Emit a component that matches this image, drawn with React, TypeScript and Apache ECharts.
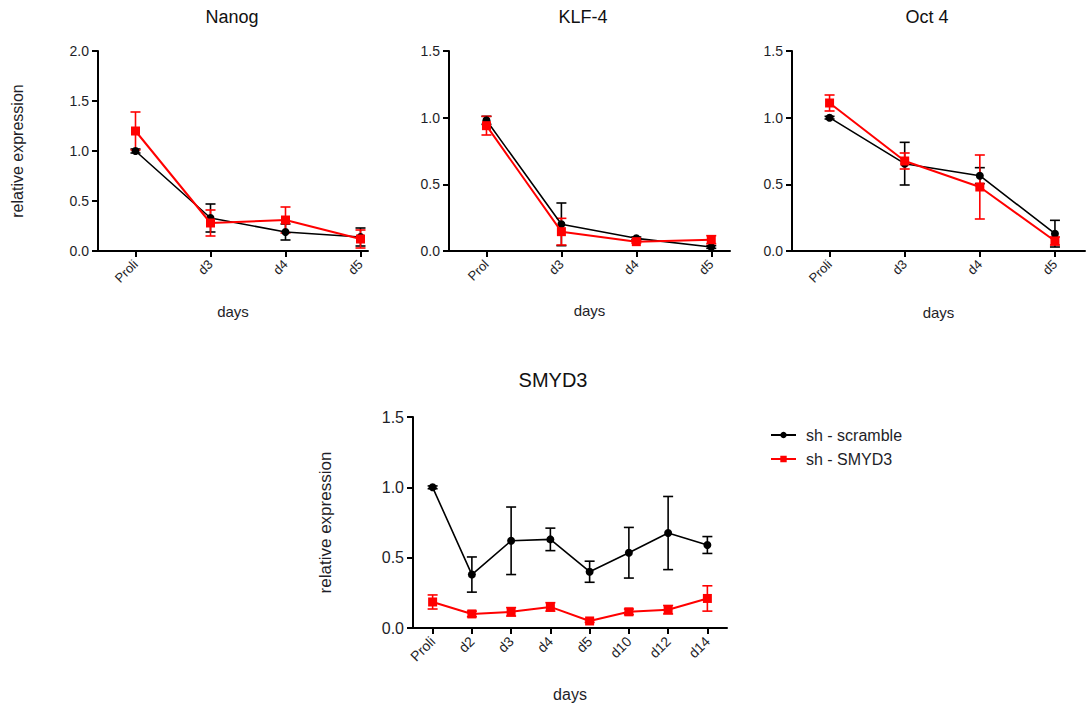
import React, { useEffect, useRef } from "react";
import * as echarts from "echarts";

const seriesNames = ["sh - scramble", "sh - SMYD3"];
const shortCats = ["Proli", "d3", "d4", "d5"];
const klfCats = ["Prol", "d3", "d4", "d5"];
const smydCats = ["Proli", "d2", "d3", "d4", "d5", "d10", "d12", "d14"];

const nanogScramble = [1.0, 0.33, 0.19, 0.14];
const nanogScrambleErr = [0.02, 0.14, 0.08, 0.09];
const nanogSmyd3 = [1.2, 0.28, 0.31, 0.12];
const nanogSmyd3Err = [0.19, 0.13, 0.13, 0.09];

const klfScramble = [0.98, 0.2, 0.095, 0.03];
const klfScrambleErr = [0.03, 0.16, 0.01, 0.01];
const klfSmyd3 = [0.94, 0.145, 0.07, 0.085];
const klfSmyd3Err = [0.07, 0.1, 0.01, 0.03];

const octScramble = [1.0, 0.655, 0.565, 0.13];
const octScrambleErr = [0.01, 0.16, 0.06, 0.1];
const octSmyd3 = [1.11, 0.675, 0.48, 0.075];
const octSmyd3Err = [0.06, 0.06, 0.24, 0.03];

const smydScramble = [1.0, 0.38, 0.62, 0.63, 0.4, 0.535, 0.675, 0.59];
const smydScrambleErr = [0.01, 0.125, 0.24, 0.08, 0.075, 0.18, 0.26, 0.06];
const smydSmyd3 = [0.185, 0.1, 0.115, 0.15, 0.05, 0.115, 0.13, 0.21];
const smydSmyd3Err = [0.05, 0.02, 0.03, 0.03, 0.01, 0.02, 0.03, 0.09];

const yMaxes = [2.0, 1.5, 1.5, 1.5];

const FONT = "Liberation Sans, Arial, sans-serif";
const BLACK = "#000000";
const RED = "#ff0000";
const TEXT = "#1e1e28";

type Panel = {
  title: string;
  cats: string[];
  left: number;
  top: number;
  width: number;
  height: number;
  xMax: number;
  yMax: number;
  yName: string;
  yNameGap: number;
  yNameSize: number;
  yTickSize: number;
  xTickSize: number;
  xNameGap: number;
  xNameSize: number;
  titleX: number;
  titleY: number;
  titleSize: number;
  black: number[];
  blackErr: number[];
  red: number[];
  redErr: number[];
};

const panels: Panel[] = [
  {
    title: "Nanog", cats: shortCats, left: 98, top: 51, width: 270, height: 200,
    xMax: 3.1, yMax: yMaxes[0], yName: "relative expression", yNameGap: 73, yNameSize: 16, yTickSize: 14,
    xTickSize: 13, xNameGap: 53, xNameSize: 15, titleX: 232, titleY: 8, titleSize: 18,
    black: nanogScramble, blackErr: nanogScrambleErr, red: nanogSmyd3, redErr: nanogSmyd3Err,
  },
  {
    title: "KLF-4", cats: klfCats, left: 449, top: 51, width: 281, height: 200,
    xMax: 3.25, yMax: yMaxes[1], yName: "", yNameGap: 0, yNameSize: 16, yTickSize: 14,
    xTickSize: 13, xNameGap: 52, xNameSize: 15, titleX: 583, titleY: 8, titleSize: 18,
    black: klfScramble, blackErr: klfScrambleErr, red: klfSmyd3, redErr: klfSmyd3Err,
  },
  {
    title: "Oct 4", cats: shortCats, left: 792, top: 51, width: 293, height: 200,
    xMax: 3.4, yMax: yMaxes[2], yName: "", yNameGap: 0, yNameSize: 16, yTickSize: 14,
    xTickSize: 13, xNameGap: 54, xNameSize: 15, titleX: 927, titleY: 8, titleSize: 18,
    black: octScramble, blackErr: octScrambleErr, red: octSmyd3, redErr: octSmyd3Err,
  },
  {
    title: "SMYD3", cats: smydCats, left: 413, top: 417, width: 314, height: 211,
    xMax: 7.5, yMax: yMaxes[3], yName: "relative expression", yNameGap: 79, yNameSize: 17, yTickSize: 16,
    xTickSize: 14, xNameGap: 58, xNameSize: 16, titleX: 553, titleY: 370, titleSize: 20,
    black: smydScramble, blackErr: smydScrambleErr, red: smydSmyd3, redErr: smydSmyd3Err,
  },
];

function errorSeries(idx: number, vals: number[], errs: number[], color: string) {
  return {
    type: "custom",
    xAxisIndex: idx,
    yAxisIndex: idx,
    z: 3,
    silent: true,
    encode: { x: 0, y: 1 },
    data: vals.map((v, i) => [i, v, errs[i]]),
    renderItem: (params: any, api: any) => {
      const x = api.value(0);
      const y = api.value(1);
      const e = api.value(2);
      const hi = api.coord([x, y + e]);
      const lo = api.coord([x, y - e]);
      const w = 5;
      const st = { stroke: color, lineWidth: 1.6 };
      return {
        type: "group",
        children: [
          { type: "line", shape: { x1: hi[0], y1: hi[1], x2: lo[0], y2: lo[1] }, style: st },
          { type: "line", shape: { x1: hi[0] - w, y1: hi[1], x2: hi[0] + w, y2: hi[1] }, style: st },
          { type: "line", shape: { x1: lo[0] - w, y1: lo[1], x2: lo[0] + w, y2: lo[1] }, style: st },
        ],
      };
    },
  };
}

function buildOption() {
  const grid: any[] = [];
  const xAxis: any[] = [];
  const yAxis: any[] = [];
  const series: any[] = [];

  panels.forEach((p, idx) => {
    grid.push({ left: p.left, top: p.top, width: p.width, height: p.height, containLabel: false });
    const idxs = p.cats.map((_, i) => i);
    xAxis.push({
      type: "value",
      gridIndex: idx,
      min: -0.5,
      max: p.xMax,
      splitLine: { show: false },
      axisLine: { show: true, onZero: false, lineStyle: { color: BLACK, width: 2 } },
      axisTick: { show: true, customValues: idxs, length: 6, lineStyle: { color: BLACK, width: 2 } },
      axisLabel: {
        customValues: idxs,
        formatter: (v: number) => p.cats[Math.round(v)] ?? "",
        rotate: 45,
        fontSize: p.xTickSize,
        color: TEXT,
        fontFamily: FONT,
        margin: 11,
      },
      name: "days",
      nameLocation: "middle",
      nameGap: p.xNameGap,
      nameTextStyle: { fontSize: p.xNameSize, color: TEXT, fontFamily: FONT },
    });
    yAxis.push({
      type: "value",
      gridIndex: idx,
      min: 0,
      max: p.yMax,
      interval: 0.5,
      splitLine: { show: false },
      axisLine: { show: true, onZero: false, lineStyle: { color: BLACK, width: 2 } },
      axisTick: { show: true, length: 6, lineStyle: { color: BLACK, width: 2 } },
      axisLabel: {
        formatter: (v: number) => v.toFixed(1),
        fontSize: p.yTickSize,
        color: TEXT,
        fontFamily: FONT,
        margin: 9,
      },
      name: p.yName,
      nameLocation: "middle",
      nameRotate: 90,
      nameGap: p.yNameGap,
      nameTextStyle: { fontSize: p.yNameSize, color: TEXT, fontFamily: FONT },
    });

    series.push(errorSeries(idx, p.black, p.blackErr, BLACK));
    series.push({
      type: "line",
      name: seriesNames[0],
      xAxisIndex: idx,
      yAxisIndex: idx,
      data: p.black.map((v, i) => [i, v]),
      symbol: "circle",
      symbolSize: 8,
      showSymbol: true,
      z: 4,
      itemStyle: { color: BLACK },
      lineStyle: { color: BLACK, width: 1.6 },
    });
    series.push(errorSeries(idx, p.red, p.redErr, RED));
    series.push({
      type: "line",
      name: seriesNames[1],
      xAxisIndex: idx,
      yAxisIndex: idx,
      data: p.red.map((v, i) => [i, v]),
      symbol: "rect",
      symbolSize: 9,
      showSymbol: true,
      z: 5,
      itemStyle: { color: RED },
      lineStyle: { color: RED, width: 2 },
    });
  });

  return {
    animation: false,
    backgroundColor: "#ffffff",
    grid,
    xAxis,
    yAxis,
    series,
    legend: {
      data: seriesNames,
      orient: "vertical",
      left: 765,
      top: 422,
      itemWidth: 25,
      itemHeight: 8,
      itemGap: 8,
      textStyle: { fontSize: 16, color: TEXT, fontFamily: FONT, padding: [0, 0, 0, 5] },
    },
    graphic: panels.map((p) => ({
      type: "text",
      x: p.titleX,
      y: p.titleY,
      style: {
        text: p.title,
        fontSize: p.titleSize,
        fontFamily: FONT,
        fill: "#111",
        align: "center",
        textAlign: "center",
      },
    })),
  };
}

export default function App() {
  const ref = useRef<HTMLDivElement>(null);
  useEffect(() => {
    if (!ref.current) return;
    const chart = echarts.init(ref.current, null, { renderer: "svg" });
    chart.setOption(buildOption() as any);
    return () => chart.dispose();
  }, []);
  return (
    <div
      ref={ref}
      style={{ position: "fixed", left: 0, top: 0, width: 1088, height: 709, background: "#fff" }}
    />
  );
}
